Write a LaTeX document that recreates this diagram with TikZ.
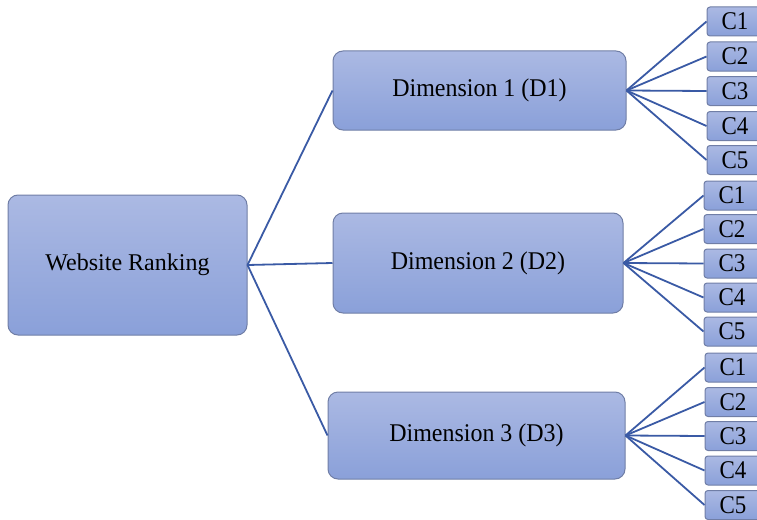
\documentclass[tikz,border=0pt]{standalone}
\usepackage{fontspec}
\setmainfont{Liberation Serif}
\newfontfamily\dimfont[FakeStretch=0.94]{Liberation Serif}
\newfontfamily\critfont[FakeStretch=0.9]{Liberation Serif}
\definecolor{boxtop}{RGB}{171,185,227}
\definecolor{boxbot}{RGB}{138,160,217}
\definecolor{boxline}{RGB}{112,126,166}
\definecolor{linkblue}{RGB}{58,90,165}
\tikzset{
  box/.style={draw=boxline, line width=1pt, top color=boxtop, bottom color=boxbot,
    rounded corners=10pt, inner sep=0pt, font=\fontsize{24}{28}\selectfont},
  dimbox/.style={box, font=\dimfont\fontsize{25.5}{30}\selectfont},
  cbox/.style={draw=boxline, line width=1pt, top color=boxtop, bottom color=boxbot,
    rounded corners=3pt, inner sep=0pt, minimum width=56pt, minimum height=29pt,
    font=\critfont\fontsize{25.5}{30}\selectfont},
  link/.style={draw=linkblue, line width=1.8pt}
}
\begin{document}
\begin{tikzpicture}[x=1pt, y=-1pt]
\useasboundingbox (0,0) rectangle (757,519);
\clip (0,0) rectangle (757,519);

% root and dimension boxes
\node[box, minimum width=239pt, minimum height=140pt] (root) at (127.5,265) {Website Ranking};
\node[dimbox, minimum width=293pt, minimum height=79pt]  (d1) at (479.5,90.5) {Dimension 1 (D1)};
\node[dimbox, minimum width=290pt, minimum height=100pt] (d2) at (478,263) {Dimension 2 (D2)};
\node[dimbox, minimum width=297pt, minimum height=87pt]  (d3) at (476.5,435.5) {Dimension 3 (D3)};

% criteria boxes
\foreach \i/\y in {1/21.5, 2/56.5, 3/91, 4/126, 5/160}
  \node[cbox] (a\i) at (735,\y) {C\i};
\foreach \i/\y in {1/195.5, 2/229, 3/263.5, 4/297.5, 5/331.5}
  \node[cbox] (b\i) at (732,\y) {C\i};
\foreach \i/\y in {1/367.5, 2/402, 3/436, 4/470.5, 5/505}
  \node[cbox] (c\i) at (733,\y) {C\i};

% connectors
\foreach \d in {d1,d2,d3}
  \draw[link] (root.east) -- (\d.west);
\foreach \i in {1,...,5} {
  \draw[link] (d1.east) -- (a\i.west);
  \draw[link] (d2.east) -- (b\i.west);
  \draw[link] (d3.east) -- (c\i.west);
}
\end{tikzpicture}
\end{document}
